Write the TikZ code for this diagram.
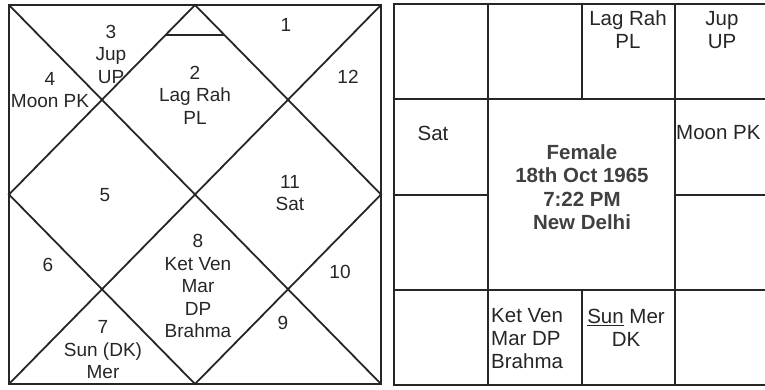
\documentclass[tikz,border=0pt]{standalone}
\usepackage{fontspec}
\setmainfont{Liberation Sans}
\usetikzlibrary{positioning}
\tikzset{
  chartline/.style={line width=1.8pt, draw=black!85, line join=miter},
  house/.style={
    font=\fontsize{19}{22.5}\selectfont, align=center,
    inner sep=0pt, text=black!85
  },
  cell/.style={
    font=\fontsize{20.5}{23}\selectfont, align=center,
    inner sep=0pt, text=black!85
  },
  birth/.style={
    font=\fontsize{20.5}{23.5}\selectfont\bfseries, align=center,
    inner sep=0pt, text=black!75
  },
}

\begin{document}
\begin{tikzpicture}[x=1pt,y=-1pt]

  \useasboundingbox (0,0) rectangle (765,389);
  \clip (0,0) rectangle (765,389);

  % North Indian chart (left)
  \draw[chartline] (9,5) rectangle (381,384);
  \draw[chartline] (9,5) -- (381,384);
  \draw[chartline] (381,5) -- (9,384);
  \draw[chartline] (195,5) -- (381,194.5) -- (195,384) -- (9,194.5) -- cycle;
  \draw[chartline] (166,35) -- (224,35);

  % House numbers and planets
  \node[house] (h1)  at (286,25)  {1};
  \node[house] (h2)  at (195,95)  {2\\Lag Rah\\PL};
  \node[house] (h3)  at (111,54)  {3\\Jup\\UP};
  \node[house] (h4)  at (50,90)   {4\\Moon PK};
  \node[house] (h5)  at (105,195) {5};
  \node[house] (h6)  at (48,265)  {6};
  \node[house] (h7)  at (103,350) {7\\Sun (DK)\\Mer};
  \node[house] (h8)  at (198,286) {8\\Ket Ven\\Mar\\DP\\Brahma};
  \node[house] (h9)  at (283,323) {9};
  \node[house] (h10) at (340,272) {10};
  \node[house] (h11) at (290,193) {11\\Sat};
  \node[house] (h12) at (348,77)  {12};

  % South Indian chart (right)
  \draw[chartline] (394,4) rectangle (769,385);
  \draw[chartline] (394,99) -- (769,99);
  \draw[chartline] (394,290) -- (769,290);
  \draw[chartline] (394,195) -- (488,195);
  \draw[chartline] (675,195) -- (769,195);
  \draw[chartline] (488,4) -- (488,385);
  \draw[chartline] (675,4) -- (675,385);
  \draw[chartline] (582,4) -- (582,99);
  \draw[chartline] (582,290) -- (582,385);

  % Signs
  \node[cell] (taurus) at (628,30) {Lag Rah\\PL};
  \node[cell] (gemini) at (722,30) {Jup\\UP};
  \node[cell] (aquarius) at (433,133) {Sat};
  \node[cell, anchor=west] (cancer) at (676,133) {Moon PK};
  \node[cell, align=left, anchor=west] (scorpio) at (491,339)
    {Ket Ven\\Mar DP\\Brahma};
  \node[cell] (libra) at (626,328) {\underline{Sun} Mer\\DK};

  % Birth data
  \node[birth] (info) at (582,187) {Female\\18th Oct 1965\\7:22 PM\\New Delhi};

\end{tikzpicture}
\end{document}
